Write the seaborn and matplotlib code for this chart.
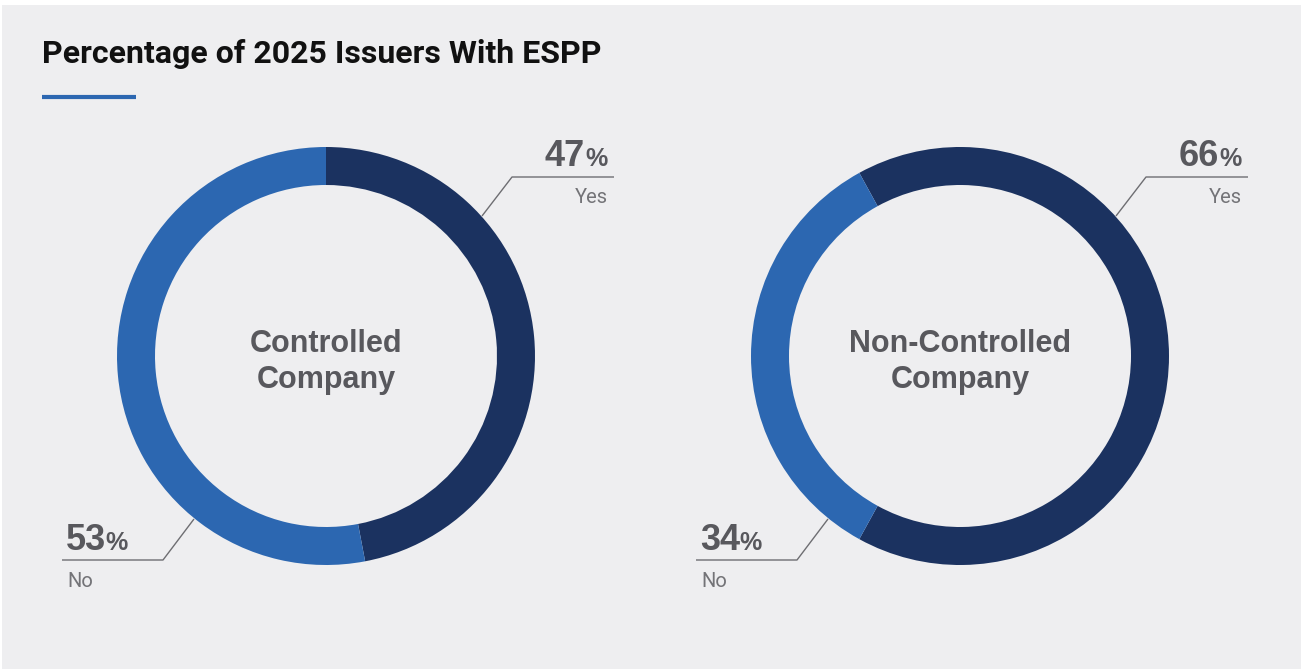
import matplotlib
matplotlib.use("Agg")
import matplotlib.pyplot as plt
from matplotlib.patches import Rectangle
from matplotlib.lines import Line2D
from matplotlib.transforms import IdentityTransform
import seaborn as sns

sns.set_theme(style="white")
plt.rcParams["font.family"] = ["Roboto", "DejaVu Sans"]

# ---- data ----
title = "Percentage of 2025 Issuers With ESPP"
groups = ["Controlled\nCompany", "Non-Controlled\nCompany"]
answer_labels = ["Yes", "No"]
yes_share = [47, 66]
no_share = [53, 34]

DARK = "#1b3260"
BLUE = "#2c67b1"
PANEL = "#eeeef0"
TEXT_DARK = "#58585d"
TEXT_LIGHT = "#737377"
LINE_COLOR = "#6e6e72"
BOLD_FONT = ["Liberation Sans", "DejaVu Sans"]

W, H = 1301, 671
fig = plt.figure(figsize=(W / 100, H / 100), dpi=100, facecolor="white")
renderer = fig.canvas.get_renderer()

# panel background
fig.patches.append(Rectangle((2 / W, 2 / H), 1 - 2 / W, 1 - 7 / H,
                             transform=fig.transFigure, facecolor=PANEL,
                             edgecolor="none", zorder=-10))

# title and accent rule
fig.text(42 / W, 1 - 63 / H, title, fontsize=23, fontweight="bold",
         color="#111111", va="baseline", ha="left")
fig.add_artist(Line2D([42 / W, 136 / W], [1 - 97 / H, 1 - 97 / H],
                      transform=fig.transFigure, color=BLUE, lw=3,
                      solid_capstyle="butt"))


def disp(x, y):
    """Figure pixel position measured from the top-left corner."""
    return x, H - y


def pct_label(value, x, y, align):
    """Big bold number followed by a smaller percent sign, baseline at y."""
    kw = dict(va="baseline", fontweight="bold", color=TEXT_DARK,
              family=BOLD_FONT, transform=IdentityTransform())
    bx, by = disp(x, y)
    if align == "right":
        pct = fig.text(bx, by, "%", ha="right", fontsize=18, **kw)
        bb = pct.get_window_extent(renderer)
        fig.text(bb.x0 - 1, by, f"{value}", ha="right", fontsize=26, **kw)
    else:
        num = fig.text(bx, by, f"{value}", ha="left", fontsize=26, **kw)
        bb = num.get_window_extent(renderer)
        fig.text(bb.x1 - 1, by, "%", ha="left", fontsize=18, **kw)


R = 209.0      # outer radius in pixels
RING = 38.0    # ring thickness in pixels
centers = [(326, 356), (960, 356)]
start_angles = [90, 90 + 28.8]   # degrees, counter-clockwise from +x

for i, (cx, cy) in enumerate(centers):
    ax = fig.add_axes([(cx - R) / W, (H - cy - R) / H, 2 * R / W, 2 * R / H])
    ax.set_zorder(5)
    ax.axis("off")
    ax.patch.set_alpha(0)

    ax.pie([yes_share[i], no_share[i]], colors=[DARK, BLUE],
           startangle=start_angles[i], counterclock=False, radius=1.0,
           wedgeprops=dict(width=RING / R, edgecolor="none",
                           linewidth=0))
    ax.set_xlim(-1, 1)
    ax.set_ylim(-1, 1)
    ax.set_aspect("equal")

    ax.text(0, -6 / R, groups[i], ha="center", va="center", fontsize=22,
            fontweight="bold", color=TEXT_DARK, linespacing=1.27,
            family=BOLD_FONT)

    def px(x, y):
        return (x - cx) / R, (cy - y) / R

    # "Yes" callout (upper right)
    p0 = px(cx + 156, 216)
    p1 = px(cx + 186, 177)
    p2 = px(cx + 288, 177)
    ax.plot([p0[0], p1[0], p2[0]], [p0[1], p1[1], p2[1]], color=LINE_COLOR,
            lw=1.0, clip_on=False, solid_capstyle="butt")
    pct_label(yes_share[i], cx + 282, 166, "right")
    lx, ly = px(cx + 282, 203)
    ax.text(lx, ly, answer_labels[0], ha="right", va="baseline",
            fontsize=14.5, color=TEXT_LIGHT, clip_on=False)

    # "No" callout (lower left)
    q0 = px(cx - 132, 519)
    q1 = px(cx - 163, 560)
    q2 = px(cx - 264, 560)
    ax.plot([q0[0], q1[0], q2[0]], [q0[1], q1[1], q2[1]], color=LINE_COLOR,
            lw=1.0, clip_on=False, solid_capstyle="butt")
    pct_label(no_share[i], cx - 260, 550, "left")
    mx, my = px(cx - 259, 587)
    ax.text(mx, my, answer_labels[1], ha="left", va="baseline",
            fontsize=14.5, color=TEXT_LIGHT, clip_on=False)

fig.savefig("out.png", dpi=100, facecolor="white")
